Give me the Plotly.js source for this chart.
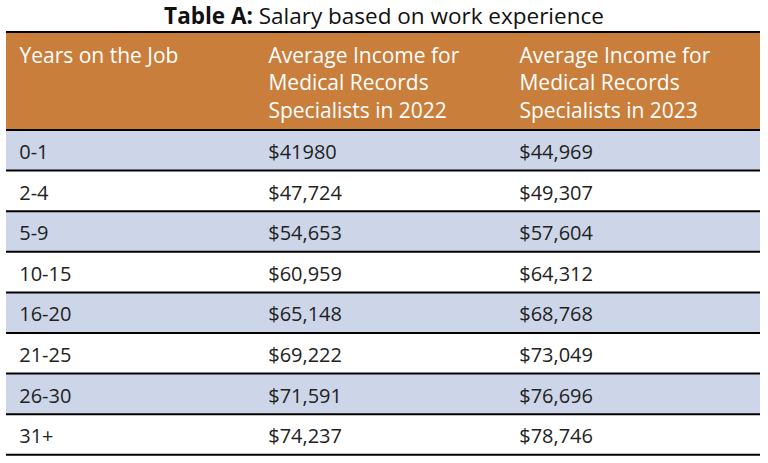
<!DOCTYPE html>
<html><head><meta charset="utf-8">
<script src="https://cdn.plot.ly/plotly-3.0.1.min.js"></script>
<style>html,body{margin:0;padding:0;background:#fff;}</style>
</head><body>
<div id="chart" style="width:768px;height:463px;"></div>
<script>
const headers = ["Years on the Job<br>\u00a0<br>\u00a0", "Average Income for<br>Medical Records<br>Specialists in 2022", "Average Income for<br>Medical Records<br>Specialists in 2023"];
const years = ["0-1", "2-4", "5-9", "10-15", "16-20", "21-25", "26-30", "31+"];
const income2022 = ["$41980", "$47,724", "$54,653", "$60,959", "$65,148", "$69,222", "$71,591", "$74,237"];
const income2023 = ["$44,969", "$49,307", "$57,604", "$64,312", "$68,768", "$73,049", "$76,696", "$78,746"];

(function () {
const W = 768, H = 463;
const boxTop = 32, headerBottom = 130, rowH = 40.6, leftM = 6, rightEdge = 760;
const textTop = 33, textHeaderH = 103;       // text block offsets so labels sit centred in the rows
const headerColor = "#c97e3c";
const rowFill = years.map((_, i) => i % 2 === 0 ? "#cdd6e8" : "#ffffff");
const FONT = "'Open Sans', sans-serif";
const headerText = headers.map(h => h.split("<br>").map(s => "\u00a0" + s).join("<br>"));
const py2paper = py => 1 - py / H;

const trace = {
  type: "table",
  columnwidth: [249, 251, 254],
  domain: {x: [0, 1], y: [py2paper(textTop + textHeaderH + years.length * rowH + 0.5), py2paper(textTop)]},
  header: {
    values: headerText,
    align: "left",
    height: textHeaderH,
    fill: {color: "rgba(0,0,0,0)"},
    line: {width: 0, color: "rgba(0,0,0,0)"},
    font: {family: FONT, size: 21, color: "#ffffff"}
  },
  cells: {
    values: [years, income2022, income2023],
    align: "left",
    height: rowH,
    prefix: "\u00a0",
    fill: {color: "rgba(0,0,0,0)"},
    line: {width: 0, color: "rgba(0,0,0,0)"},
    font: {family: FONT, size: 20, color: "#222222"}
  }
};

const shapes = [];
// header band
shapes.push({type: "rect", xref: "paper", yref: "paper", layer: "below",
  x0: 0, x1: 1, y0: py2paper(headerBottom), y1: py2paper(boxTop),
  fillcolor: headerColor, line: {width: 0}});
// row bands
rowFill.forEach((c, i) => shapes.push({type: "rect", xref: "paper", yref: "paper", layer: "below",
  x0: 0, x1: 1, y0: py2paper(headerBottom + (i + 1) * rowH), y1: py2paper(headerBottom + i * rowH),
  fillcolor: c, line: {width: 0}}));
// rules
const ys = [boxTop, headerBottom];
for (let i = 1; i <= years.length; i++) ys.push(headerBottom + i * rowH);
ys.forEach(py => shapes.push({
  type: "line", xref: "paper", yref: "paper", layer: "above",
  x0: 0, x1: 1, y0: py2paper(py), y1: py2paper(py),
  line: {color: "#000000", width: 2}
}));

const layout = {
  width: W, height: H,
  margin: {l: leftM, r: W - rightEdge, t: 0, b: 0},
  paper_bgcolor: "#ffffff",
  title: {text: "<b>Table A:</b> Salary based on work experience", x: 0.5, xanchor: "center", y: 0.966, yanchor: "middle",
          font: {family: FONT, size: 22.5, color: "#111111"}},
  shapes: shapes
};

Plotly.newPlot("chart", [trace], layout, {displayModeBar: false, staticPlot: true});
})();
</script>
</body></html>
